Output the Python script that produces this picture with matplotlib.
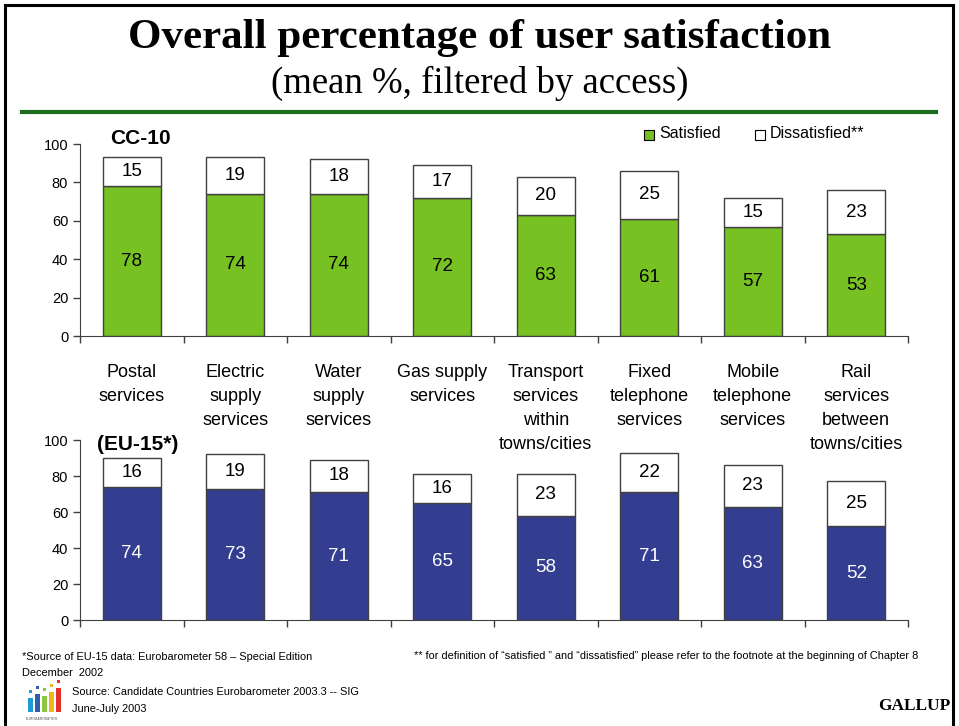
import matplotlib.pyplot as plt
from matplotlib.patches import Rectangle
import numpy as np

# --- data ---
services = ["Postal\nservices", "Electric\nsupply\nservices", "Water\nsupply\nservices",
            "Gas supply\nservices", "Transport\nservices\nwithin\ntowns/cities",
            "Fixed\ntelephone\nservices", "Mobile\ntelephone\nservices",
            "Rail\nservices\nbetween\ntowns/cities"]
cc10_satisfied = [78, 74, 74, 72, 63, 61, 57, 53]
cc10_dissatisfied = [15, 19, 18, 17, 20, 25, 15, 23]
eu15_satisfied = [74, 73, 71, 65, 58, 71, 63, 52]
eu15_dissatisfied = [16, 19, 18, 16, 23, 22, 23, 25]

GREEN = "#77C123"
BLUE = "#343E91"
EDGE = "#404040"

W, H = 959, 726
fig = plt.figure(figsize=(W / 100, H / 100), dpi=100)
plt.rcParams['font.family'] = ['Liberation Sans', 'DejaVu Sans']


def fx(px):
    return px / W


def fy(py):
    return 1 - py / H


def draw_panel(ax, sat, dis, color, sat_text_color):
    x = np.arange(len(sat))
    ax.bar(x, sat, width=0.56, color=color, edgecolor=EDGE, linewidth=1)
    ax.bar(x, dis, width=0.56, bottom=sat, color="white", edgecolor=EDGE, linewidth=1)
    for i in range(len(sat)):
        ax.text(x[i], sat[i] / 2, str(sat[i]), ha="center", va="center",
                fontsize=13.5, color=sat_text_color)
        ax.text(x[i], sat[i] + dis[i] / 2, str(dis[i]), ha="center", va="center",
                fontsize=13.5, color="black")
    ax.set_xlim(-0.5, len(sat) - 0.5)
    ax.set_ylim(0, 100)
    ax.set_yticks(range(0, 101, 20))
    ax.tick_params(axis="y", labelsize=10.5, direction="out", length=5, width=1, color=EDGE)
    ax.set_xticks(np.arange(-0.5, len(sat), 1), minor=True)
    ax.tick_params(axis="x", which="minor", direction="out", length=5, width=1, color=EDGE)
    ax.tick_params(axis="x", which="major", length=0)
    for side in ("top", "right"):
        ax.spines[side].set_visible(False)
    for side in ("left", "bottom"):
        ax.spines[side].set_color(EDGE)
    ax.patch.set_alpha(0)
    return x


# top panel: CC-10
ax1 = fig.add_axes([fx(80), fy(336), fx(908) - fx(80), fy(144) - fy(336)])
x = draw_panel(ax1, cc10_satisfied, cc10_dissatisfied, GREEN, "black")
ax1.set_xticks(x)
ax1.set_xticklabels(services, fontsize=13, linespacing=1.55, va="top")
ax1.tick_params(axis="x", which="major", pad=20)

# bottom panel: EU-15
ax2 = fig.add_axes([fx(80), fy(620), fx(908) - fx(80), fy(440) - fy(620)])
draw_panel(ax2, eu15_satisfied, eu15_dissatisfied, BLUE, "white")
ax2.set_xticks(x)
ax2.set_xticklabels([])

fig.text(fx(110), fy(139), "CC-10", fontsize=15, fontweight="bold", va="center")
fig.text(fx(97), fy(445), "(EU-15*)", fontsize=15, fontweight="bold", va="center")

# legend
fig.patches.append(Rectangle((fx(644), fy(140)), fx(10), 10 / H, transform=fig.transFigure,
                             facecolor=GREEN, edgecolor="black", linewidth=0.8))
fig.text(fx(659), fy(134), "Satisfied", fontsize=11.5, va="center")
fig.patches.append(Rectangle((fx(755), fy(140)), fx(10), 10 / H, transform=fig.transFigure,
                             facecolor="white", edgecolor="black", linewidth=0.8))
fig.text(fx(770), fy(134), "Dissatisfied**", fontsize=11.5, va="center")

# title block
fig.text(0.5, fy(38), "Overall percentage of user satisfaction", ha="center", va="center",
         fontsize=31, fontweight="bold", family=["Liberation Serif", "DejaVu Serif"])
fig.text(0.5, fy(83), "(mean %, filtered by access)", ha="center", va="center",
         fontsize=26.5, family=["Liberation Serif", "DejaVu Serif"])
fig.add_artist(plt.Line2D([fx(22), fx(936)], [fy(112), fy(112)], color="#1E6B1E", linewidth=3))

# frame
fig.patches.append(Rectangle((fx(5), fy(740)), fx(948), (740 - 5) / H, transform=fig.transFigure,
                             facecolor="none", edgecolor="black", linewidth=2.2))

# footnotes
fig.text(fx(22), fy(657), "*Source of EU-15 data: Eurobarometer 58 \u2013 Special Edition",
         fontsize=7.9, va="center")
fig.text(fx(22), fy(673), "December  2002", fontsize=7.9, va="center")
fig.text(fx(414), fy(656), "** for definition of \u201csatisfied \u201d and \u201cdissatisfied\u201d "
         "please refer to the footnote at the beginning of Chapter 8", fontsize=7.9, va="center")
fig.text(fx(72), fy(692), "Source: Candidate Countries Eurobarometer 2003.3 -- SIG",
         fontsize=7.9, va="center")
fig.text(fx(72), fy(709), "June-July 2003", fontsize=7.9, va="center")
fig.text(fx(950), fy(706), "GALLUP", ha="right", va="center", fontsize=12.5, fontweight="bold",
         family=["Liberation Serif", "DejaVu Serif"])

# small eurobarometer logo
logo_colors = ["#1E9BD7", "#2E5FA8", "#8DC63F", "#F2B51C", "#E4322B"]
logo_heights = [14, 18, 16, 20, 24]
for i, (c, h) in enumerate(zip(logo_colors, logo_heights)):
    x0 = 28 + i * 7
    fig.patches.append(Rectangle((fx(x0), fy(712)), fx(5), h / H, transform=fig.transFigure,
                                 facecolor=c, edgecolor="none"))
    fig.patches.append(Rectangle((fx(x0 + 1), fy(712 - h - 5)), fx(3), 3 / H,
                                 transform=fig.transFigure, facecolor=c, edgecolor="none"))
fig.text(fx(26), fy(719), "EUROBAROMETER", fontsize=2.5, va="center", color="#555555")

fig.savefig("out.png", dpi=100)
